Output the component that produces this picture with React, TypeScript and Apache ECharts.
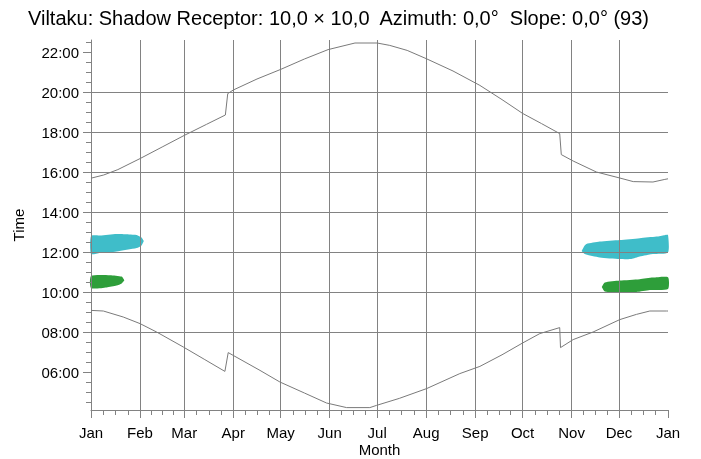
import React, { useEffect, useRef } from "react";
import * as echarts from "echarts";

const titleText = "Viltaku: Shadow Receptor: 10,0 × 10,0  Azimuth: 0,0°  Slope: 0,0° (93)";
const xName = "Month";
const yName = "Time";

const monthStarts = [0, 31, 59, 90, 120, 151, 181, 212, 243, 273, 304, 334, 365];
const monthLabels = ["Jan", "Feb", "Mar", "Apr", "May", "Jun", "Jul", "Aug", "Sep", "Oct", "Nov", "Dec", "Jan"];
const hourTicks = [6, 8, 10, 12, 14, 16, 18, 20, 22];

// [day of year, hour of day]
const sunset = [
  [0, 15.69], [8, 15.85], [17, 16.12], [31, 16.67], [45, 17.25], [59, 17.83], [73, 18.38],
  [85, 18.85], [86.5, 19.92], [90, 20.1], [105, 20.65], [120, 21.13], [135, 21.65],
  [150, 22.12], [167, 22.45], [181, 22.45], [189, 22.33], [200, 22.08], [212, 21.67],
  [229, 21.05], [246, 20.33], [260, 19.62], [273, 18.93], [285, 18.42], [296.5, 17.92],
  [297.5, 16.87], [305, 16.55], [319.7, 16.0], [334.5, 15.7], [343, 15.52], [355.5, 15.5],
  [363, 15.63], [365, 15.66],
];

const sunrise = [
  [0, 9.08], [7.8, 9.05], [20.4, 8.75], [31, 8.42], [41.5, 8.0], [58.4, 7.25], [72, 6.62],
  [84.7, 6.03], [86.8, 6.97], [106.9, 6.08], [119.5, 5.5], [135, 4.95], [149, 4.45],
  [161.7, 4.22], [176.4, 4.22], [180.6, 4.33], [195, 4.68], [212.3, 5.17], [233.3, 5.92],
  [246, 6.28], [260, 6.86], [273, 7.45], [283.9, 7.92], [296.5, 8.22], [297, 7.22],
  [305, 7.62], [317.6, 8.0], [334.5, 8.62], [345, 8.88], [353.5, 9.05], [364, 9.05], [365, 9.05],
];

const cyanJanUpper = [[0, 12.8], [5.7, 12.82], [16.2, 12.9], [24, 12.88], [28.9, 12.85], [32, 12.72], [33.4, 12.55]];
const cyanJanLower = [[0, 11.9], [5.7, 11.95], [16.2, 12.03], [28.9, 12.2], [32, 12.33], [33.4, 12.55]];
const greenJanUpper = [[0, 10.8], [12, 10.84], [19.4, 10.77], [21.1, 10.59]];
const greenJanLower = [[0, 10.2], [9.9, 10.23], [16.2, 10.32], [19.4, 10.43], [21.1, 10.59]];
const cyanDecUpper = [[310.4, 12.05], [312.3, 12.32], [313.4, 12.4], [321.8, 12.52], [334.5, 12.6], [347.1, 12.69], [357.7, 12.77], [362.9, 12.84], [365, 12.85]];
const cyanDecLower = [[310.4, 12.05], [312.3, 11.9], [321.8, 11.73], [334.5, 11.65], [341.8, 11.65], [347.1, 11.77], [355.5, 11.9], [365, 11.98]];
const greenDecUpper = [[323.1, 10.25], [325, 10.47], [334.5, 10.57], [347.1, 10.64], [355.5, 10.72], [365, 10.74]];
const greenDecLower = [[323.1, 10.25], [325, 10.03], [334.5, 9.98], [345, 10.0], [353.5, 10.1], [365, 10.15]];

const CYAN = "#3fbdc9";
const GREEN = "#2e9e3a";
const GRAY = "#828282";
const FONT = "'Liberation Sans', Arial, sans-serif";

const bands = [
  { upper: cyanJanUpper, lower: cyanJanLower, color: CYAN },
  { upper: greenJanUpper, lower: greenJanLower, color: GREEN },
  { upper: cyanDecUpper, lower: cyanDecLower, color: CYAN },
  { upper: greenDecUpper, lower: greenDecLower, color: GREEN },
];

export default function App() {
  const ref = useRef<HTMLDivElement>(null);
  useEffect(() => {
    document.body.style.margin = "0";
    const chart = echarts.init(ref.current!, null, { renderer: "svg" });
    const minorDays: number[] = [];
    for (let i = 0; i < monthStarts.length - 1; i++) {
      const a = monthStarts[i], b = monthStarts[i + 1];
      for (let k = 1; k < 4; k++) minorDays.push(a + ((b - a) * k) / 4);
    }
    const minorHours: number[] = [];
    for (let h = 4.5; h <= 22.5; h += 0.5) if (h % 2 !== 0) minorHours.push(h);

    chart.setOption({
      animation: false,
      title: {
        text: titleText,
        left: 28,
        top: 8,
        padding: 0,
        textStyle: { fontSize: 20, fontWeight: "normal", color: "#000", fontFamily: FONT },
      },
      grid: { left: 91, right: 33, top: 40, bottom: 49, containLabel: false, outerBoundsMode: "none" },
      xAxis: [
        {
          type: "value", min: 0, max: 365, position: "bottom", z: 3,
          axisLine: { show: true, onZero: false, lineStyle: { color: GRAY, width: 1 } },
          axisTick: { show: true, customValues: monthStarts, length: 8, lineStyle: { color: GRAY } },
          axisLabel: {
            customValues: monthStarts,
            formatter: (v: number) => monthLabels[monthStarts.indexOf(v)] ?? "",
            margin: 15, fontSize: 15, color: "#000", fontFamily: FONT,
          },
          splitLine: { show: true, showMinLine: false, showMaxLine: false, lineStyle: { color: GRAY, width: 1 } },
          name: xName, nameLocation: "middle", nameGap: 32, nameMoveOverlap: false,
          nameTextStyle: { fontSize: 15, color: "#000", fontFamily: FONT },
        },
        {
          type: "value", min: 0, max: 365, position: "bottom", z: 3,
          axisLine: { show: false, onZero: false },
          axisTick: { show: true, customValues: minorDays, length: 5, lineStyle: { color: GRAY } },
          axisLabel: { show: false },
          splitLine: { show: false },
        },
      ],
      yAxis: [
        {
          type: "value", min: 4.1, max: 22.6, position: "left", z: 3,
          axisLine: { show: true, onZero: false, lineStyle: { color: GRAY, width: 1 } },
          axisTick: { show: true, customValues: hourTicks, length: 8, lineStyle: { color: GRAY } },
          axisLabel: {
            customValues: hourTicks,
            formatter: (v: number) => `${String(v).padStart(2, "0")}:00`,
            margin: 12, fontSize: 15, color: "#000", fontFamily: FONT,
          },
          splitLine: { show: true, showMinLine: false, showMaxLine: false, lineStyle: { color: GRAY, width: 1 } },
          name: yName, nameLocation: "middle", nameGap: 65, nameRotate: 90, nameMoveOverlap: false,
          nameTextStyle: { fontSize: 15, color: "#000", fontFamily: FONT },
        },
        {
          type: "value", min: 4.1, max: 22.6, position: "left", z: 3,
          axisLine: { show: false, onZero: false },
          axisTick: { show: true, customValues: minorHours, length: 5, lineStyle: { color: GRAY } },
          axisLabel: { show: false },
          splitLine: { show: false },
        },
      ],
      series: [
        {
          type: "custom",
          xAxisIndex: 0, yAxisIndex: 0, z: 1,
          data: bands.map((b) => [b.upper[0][0], b.upper[0][1]]),
          renderItem: (params: any, api: any) => {
            const b = bands[params.dataIndex];
            const pts = [...b.upper, ...b.lower.slice().reverse()].map((p) => api.coord(p));
            return { type: "polygon", shape: { points: pts, smooth: 0.2 }, style: { fill: b.color } };
          },
          silent: true,
        },
        {
          type: "line", xAxisIndex: 0, yAxisIndex: 0, z: 4, data: sunset, showSymbol: false,
          lineStyle: { color: "#7a7a7a", width: 1 }, silent: true,
        },
        {
          type: "line", xAxisIndex: 0, yAxisIndex: 0, z: 4, data: sunrise, showSymbol: false,
          lineStyle: { color: "#7a7a7a", width: 1 }, silent: true,
        },
      ],
    });
    return () => chart.dispose();
  }, []);
  return <div ref={ref} style={{ position: "fixed", left: 0, top: 0, width: 701, height: 459 }} />;
}
